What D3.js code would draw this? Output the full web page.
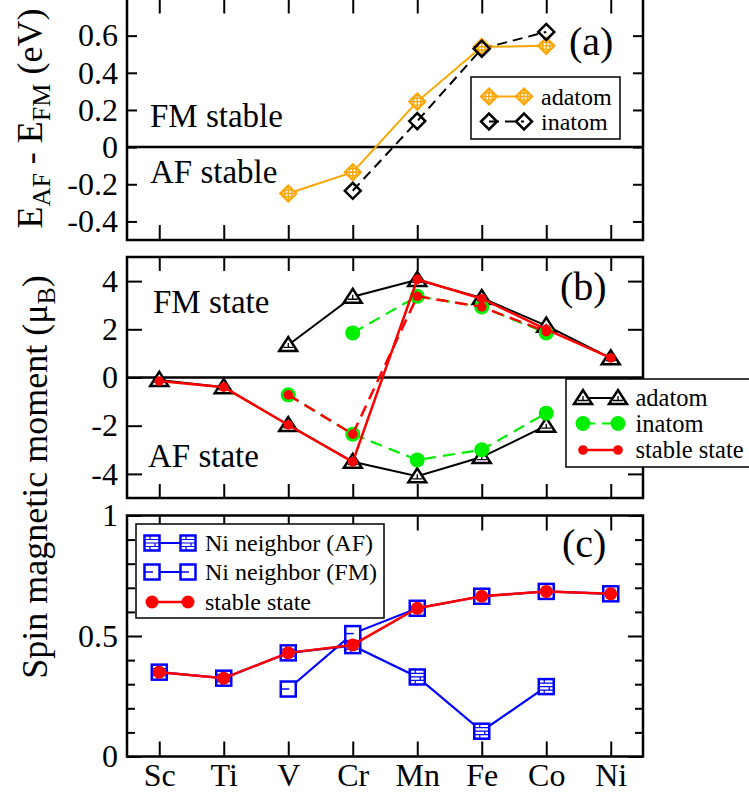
<!DOCTYPE html>
<html><head><meta charset="utf-8">
<script src="https://cdn.jsdelivr.net/npm/d3@7"></script>
<style>body{margin:0;background:#fff} svg{display:block}</style>
</head><body>
<svg id="chart" width="749" height="797"></svg>
<script>
// ---------- data ----------
const elements = ["Sc","Ti","V","Cr","Mn","Fe","Co","Ni"];
// panel (a): E_AF - E_FM (eV)
const aAdatom = [null, null, -0.25, -0.135, 0.245, 0.54, 0.545, null];
const aInatom = [null, null, null, -0.235, 0.14, 0.53, 0.62, null];
const aTicks = [-0.4, -0.2, 0, 0.2, 0.4, 0.6];
const aTickLabels = ["-0.4", "-0.2", "0", "0.2", "0.4", "0.6"];
// panel (b): spin magnetic moment (muB)
const bAdatomFM = [null, null, 1.35, 3.35, 4.05, 3.3, 2.15, 0.8];
const bAdatomAF = [-0.1, -0.4, -1.97, -3.5, -4.1, -3.3, -2.0, null];
const bInatomFM = [null, null, null, 1.85, 3.37, 2.93, 1.85, null];
const bInatomAF = [null, null, -0.72, -2.35, -3.42, -3.0, -1.48, null];
const bStable = [-0.15, -0.4, -1.97, -3.5, 4.07, 3.27, 2.0, 0.81];
const bStableInatom = [null, null, -0.72, -2.35, 3.37, 2.93, 1.9, null];
const bTicks = [-4, -2, 0, 2, 4];
const bTickLabels = ["-4", "-2", "0", "2", "4"];
// panel (c): Ni neighbor moments
const cNiAF = [0.35, 0.325, 0.43, 0.46, 0.33, 0.105, 0.29, null];
const cNiFM = [null, null, 0.28, 0.51, 0.615, 0.665, 0.685, 0.675];
const cStable = [0.35, 0.325, 0.43, 0.463, 0.615, 0.665, 0.685, 0.675];
const cTicks = [0, 0.5, 1];
const cTickLabels = ["0", "0.5", "1"];
const cMinor = [0.1, 0.2, 0.3, 0.4, 0.6, 0.7, 0.8, 0.9];

// ---------- setup ----------
const FONT = "'Liberation Serif','Times New Roman',Times,serif";
const ORANGE = "#ffa500", GREEN = "#00ee00", RED = "#ff0000", BLUE = "#0000ff";
const svg = d3.select("#chart");
const L = 127, R = 643;
const x = d3.scaleLinear().domain([-0.5, 7.5]).range([L, R]);
const yA = d3.scaleLinear().domain([-0.5, 0.8]).range([240, -1.5]);
const yB = d3.scaleLinear().domain([-5, 5]).range([498, 257]);
const yC = d3.scaleLinear().domain([0, 1]).range([756.5, 515.5]);

const pts = arr => arr.map((v, i) => ({i, v})).filter(d => d.v !== null);

function frame(y, ticks, labels, yLen, xLen, minor, showX) {
  const [bot, top] = y.range();
  const g = svg.append("g");
  const left = d3.axisLeft(y).tickValues(ticks).tickSize(-yLen).tickPadding(9)
    .tickFormat((d, i) => labels[i]);
  const right = d3.axisRight(y).tickValues(ticks).tickSize(-yLen).tickFormat("");
  const topAx = d3.axisTop(x).tickValues(d3.range(8)).tickSize(-xLen).tickFormat("");
  const botAx = d3.axisBottom(x).tickValues(d3.range(8)).tickSize(-xLen).tickPadding(7)
    .tickFormat(showX ? (d => elements[d]) : "");
  const axes = [
    g.append("g").attr("transform", `translate(${L},0)`).call(left),
    g.append("g").attr("transform", `translate(${R},0)`).call(right),
    g.append("g").attr("transform", `translate(0,${top})`).call(topAx),
    g.append("g").attr("transform", `translate(0,${bot})`).call(botAx)
  ];
  if (minor) {
    axes.push(g.append("g").attr("transform", `translate(${L},0)`)
      .call(d3.axisLeft(y).tickValues(minor).tickSize(-8).tickFormat("")));
    axes.push(g.append("g").attr("transform", `translate(${R},0)`)
      .call(d3.axisRight(y).tickValues(minor).tickSize(-8).tickFormat("")));
  }
  axes.forEach(a => {
    a.select(".domain").remove();
    a.selectAll("line").attr("stroke", "#000").attr("stroke-width", 2);
    a.selectAll("text").attr("font-family", FONT).attr("font-size", 32).attr("fill", "#000");
  });
  g.append("rect").attr("x", L).attr("y", top).attr("width", R - L).attr("height", bot - top)
    .attr("fill", "none").attr("stroke", "#000").attr("stroke-width", 2.5);
  return g;
}

function zeroLine(y) {
  svg.append("line").attr("x1", L).attr("x2", R).attr("y1", y(0)).attr("y2", y(0))
    .attr("stroke", "#000").attr("stroke-width", 2.5);
}

function drawLine(g, data, y, color, w, dash) {
  g.append("path").datum(pts(data))
    .attr("d", d3.line().x(d => x(d.i)).y(d => y(d.v)))
    .attr("fill", "none").attr("stroke", color).attr("stroke-width", w)
    .attr("stroke-dasharray", dash || null);
}

// symbol painters
function diamondCross(g, cx, cy, color) {
  const s = 8;
  g.append("path").attr("d", `M${cx-s},${cy}L${cx},${cy-s}L${cx+s},${cy}L${cx},${cy+s}Z`)
    .attr("fill", "#fff").attr("stroke", color).attr("stroke-width", 2.2);
  g.append("path").attr("d", `M${cx-s},${cy}H${cx+s}M${cx},${cy-s}V${cy+s}M${cx-3.5},${cy-3.5}h7v7h-7Z`)
    .attr("fill", "none").attr("stroke", color).attr("stroke-width", 1.4);
}
function diamondOpen(g, cx, cy, color) {
  const s = 8;
  g.append("path").attr("d", `M${cx-s},${cy}L${cx},${cy-s}L${cx+s},${cy}L${cx},${cy+s}Z`)
    .attr("fill", "none").attr("stroke", color).attr("stroke-width", 2.5);
}
function triangle(g, cx, cy) {
  g.append("path").attr("d", `M${cx-9},${cy+6}L${cx},${cy-8}L${cx+9},${cy+6}Z`)
    .attr("fill", "#fff").attr("stroke", "#000").attr("stroke-width", 2.5);
  g.append("path").attr("d", `M${cx-5},${cy+2.5}H${cx+5}M${cx},${cy-2}V${cy+2.5}`)
    .attr("fill", "none").attr("stroke", "#000").attr("stroke-width", 1.3);
}
function circle(g, cx, cy, r, color) {
  g.append("circle").attr("cx", cx).attr("cy", cy).attr("r", r).attr("fill", color);
}
function squareAF(g, cx, cy) {
  const s = 7.5;
  g.append("rect").attr("x", cx-s).attr("y", cy-s).attr("width", 2*s).attr("height", 2*s)
    .attr("fill", "#fff").attr("stroke", BLUE).attr("stroke-width", 2.5);
  g.append("path").attr("d", `M${cx-s},${cy}H${cx+s}M${cx-s},${cy-3.5}H${cx+s}M${cx-s},${cy+3.5}H${cx+s}M${cx-2},${cy-s}V${cy-3.5}M${cx+3},${cy}V${cy+3.5}M${cx-2},${cy+3.5}V${cy+s}`)
    .attr("fill", "none").attr("stroke", BLUE).attr("stroke-width", 1.2);
}
function squareFM(g, cx, cy) {
  const s = 7.5;
  g.append("rect").attr("x", cx-s).attr("y", cy-s).attr("width", 2*s).attr("height", 2*s)
    .attr("fill", "#fff").attr("stroke", BLUE).attr("stroke-width", 2.5);
  g.append("path").attr("d", `M${cx-s},${cy}H${cx+1}`)
    .attr("fill", "none").attr("stroke", BLUE).attr("stroke-width", 1.5);
}

function marks(g, data, y, fn) {
  pts(data).forEach(d => fn(g, x(d.i), y(d.v)));
}

function text(t, xx, yy, size, anchor) {
  return svg.append("text").attr("x", xx).attr("y", yy).attr("font-family", FONT)
    .attr("font-size", size).attr("text-anchor", anchor || "start").attr("fill", "#000").text(t);
}

// ---------- panel (a) ----------
frame(yA, aTicks, aTickLabels, 10, 15, null, false);
zeroLine(yA);
const ga = svg.append("g");
drawLine(ga, aAdatom, yA, ORANGE, 2);
drawLine(ga, aInatom, yA, "#000", 2, "10,6");
marks(ga, aAdatom, yA, (g, cx, cy) => diamondCross(g, cx, cy, ORANGE));
marks(ga, aInatom, yA, (g, cx, cy) => diamondOpen(g, cx, cy, "#000"));
text("FM stable", 150, 127, 33);
text("AF stable", 150, 183, 33);
text("(a)", 569, 55, 40);
// legend (a)
const la = svg.append("g");
la.append("rect").attr("x", 471).attr("y", 77).attr("width", 149).attr("height", 62)
  .attr("fill", "#fff").attr("stroke", "#000").attr("stroke-width", 1.5);
la.append("line").attr("x1", 489).attr("x2", 524).attr("y1", 96.5).attr("y2", 96.5)
  .attr("stroke", ORANGE).attr("stroke-width", 2);
diamondCross(la, 489, 96.5, ORANGE); diamondCross(la, 524, 96.5, ORANGE);
la.append("line").attr("x1", 489).attr("x2", 524).attr("y1", 121.5).attr("y2", 121.5)
  .attr("stroke", "#000").attr("stroke-width", 2).attr("stroke-dasharray", "10,6");
diamondOpen(la, 489, 121.5, "#000"); diamondOpen(la, 524, 121.5, "#000");
la.append("text").attr("x", 541).attr("y", 104.5).attr("font-family", FONT).attr("font-size", 24).text("adatom");
la.append("text").attr("x", 541).attr("y", 129.5).attr("font-family", FONT).attr("font-size", 24).text("inatom");

// ---------- panel (b) ----------
frame(yB, bTicks, bTickLabels, 15, 14, null, false);
zeroLine(yB);
const gb = svg.append("g");
drawLine(gb, bAdatomFM, yB, "#000", 2);
drawLine(gb, bAdatomAF, yB, "#000", 2);
drawLine(gb, bInatomFM, yB, GREEN, 2.2, "12,7");
drawLine(gb, bInatomAF, yB, GREEN, 2.2, "12,7");
marks(gb, bAdatomFM, yB, triangle);
marks(gb, bAdatomAF, yB, triangle);
marks(gb, bInatomFM, yB, (g, cx, cy) => circle(g, cx, cy, 7.5, GREEN));
marks(gb, bInatomAF, yB, (g, cx, cy) => circle(g, cx, cy, 7.5, GREEN));
drawLine(gb, bStableInatom, yB, RED, 2.5, "12,7");
drawLine(gb, bStable, yB, RED, 2.5);
marks(gb, bStableInatom, yB, (g, cx, cy) => circle(g, cx, cy, 4.8, RED));
marks(gb, bStable, yB, (g, cx, cy) => circle(g, cx, cy, 4.8, RED));
text("FM state", 153, 313, 33);
text("AF state", 148, 467, 33);
text("(b)", 560, 300, 40);
// legend (b)
const lb = svg.append("g");
lb.append("rect").attr("x", 566).attr("y", 379).attr("width", 200).attr("height", 88)
  .attr("fill", "#fff").attr("stroke", "#000").attr("stroke-width", 1.5);
lb.append("line").attr("x1", 583).attr("x2", 618).attr("y1", 398).attr("y2", 398)
  .attr("stroke", "#000").attr("stroke-width", 2);
triangle(lb, 583, 398); triangle(lb, 618, 398);
lb.append("line").attr("x1", 583).attr("x2", 618).attr("y1", 423.5).attr("y2", 423.5)
  .attr("stroke", GREEN).attr("stroke-width", 2.2).attr("stroke-dasharray", "12,7");
circle(lb, 583, 423.5, 7.5, GREEN); circle(lb, 618, 423.5, 7.5, GREEN);
lb.append("line").attr("x1", 583).attr("x2", 618).attr("y1", 450).attr("y2", 450)
  .attr("stroke", RED).attr("stroke-width", 2.5);
circle(lb, 583, 450, 4.8, RED); circle(lb, 618, 450, 4.8, RED);
[["adatom", 406], ["inatom", 431.5], ["stable state", 458]].forEach(([t, yy]) =>
  lb.append("text").attr("x", 635.5).attr("y", yy).attr("font-family", FONT).attr("font-size", 24.5).text(t));

// ---------- panel (c) ----------
frame(yC, cTicks, cTickLabels, 15, 15, cMinor, true);
const gc = svg.append("g");
drawLine(gc, cNiAF, yC, BLUE, 2.2);
drawLine(gc, cNiFM, yC, BLUE, 2.2);
marks(gc, cNiAF, yC, squareAF);
marks(gc, cNiFM, yC, squareFM);
drawLine(gc, cStable, yC, RED, 2.5);
marks(gc, cStable, yC, (g, cx, cy) => circle(g, cx, cy, 6.5, RED));
text("(c)", 562, 557, 40);
// legend (c)
const lc = svg.append("g");
lc.append("rect").attr("x", 136).attr("y", 524).attr("width", 248).attr("height", 94)
  .attr("fill", "#fff").attr("stroke", "#000").attr("stroke-width", 1.5);
lc.append("line").attr("x1", 152).attr("x2", 188).attr("y1", 543).attr("y2", 543).attr("stroke", BLUE).attr("stroke-width", 2.2);
squareAF(lc, 152, 543); squareAF(lc, 188, 543);
lc.append("line").attr("x1", 152).attr("x2", 188).attr("y1", 572).attr("y2", 572).attr("stroke", BLUE).attr("stroke-width", 2.2);
squareFM(lc, 152, 572); squareFM(lc, 188, 572);
lc.append("line").attr("x1", 152).attr("x2", 188).attr("y1", 602).attr("y2", 602).attr("stroke", RED).attr("stroke-width", 2.5);
circle(lc, 152, 602, 6.5, RED); circle(lc, 188, 602, 6.5, RED);
[["Ni neighbor (AF)", 551], ["Ni neighbor (FM)", 580], ["stable state", 610]].forEach(([t, yy]) =>
  lc.append("text").attr("x", 205).attr("y", yy).attr("font-family", FONT).attr("font-size", 24).text(t));

// ---------- axis titles ----------
const t1 = svg.append("text").attr("transform", "translate(42,118.5) rotate(-90)")
  .attr("text-anchor", "middle").attr("font-family", FONT).attr("font-size", 36).attr("fill", "#000");
t1.append("tspan").text("E");
t1.append("tspan").attr("font-size", 26).attr("dy", 8).text("AF");
t1.append("tspan").attr("dy", -8).text(" - E");
t1.append("tspan").attr("font-size", 26).attr("dy", 8).text("FM");
t1.append("tspan").attr("dy", -8).text(" (eV)");

const t2 = svg.append("text").attr("transform", "translate(47,477) rotate(-90)")
  .attr("text-anchor", "middle").attr("font-family", FONT).attr("font-size", 36).attr("fill", "#000");
t2.append("tspan").text("Spin magnetic moment (μ");
t2.append("tspan").attr("font-size", 26).attr("dy", 8).text("B");
t2.append("tspan").attr("dy", -8).text(")");
</script>
</body></html>
